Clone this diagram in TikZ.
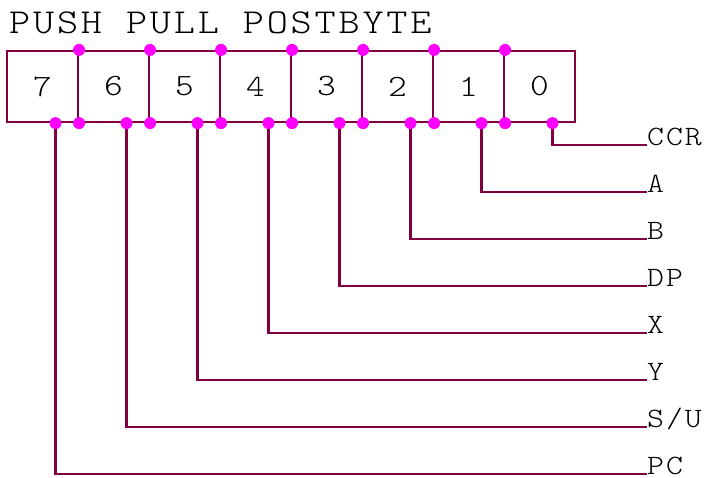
\documentclass[tikz,border=0pt]{standalone}
\usepackage{fontspec}
\newfontfamily\thinmono[FakeStretch=1.15,LetterSpace=8]{Latin Modern Mono Light}
\newfontfamily\thinmonolabel[FakeStretch=1.15,LetterSpace=7]{Latin Modern Mono Light}
\definecolor{wire}{RGB}{128,0,64}
\definecolor{joint}{RGB}{255,0,255}
\begin{document}
\begin{tikzpicture}[x=1pt,y=-1pt,
  bitcell/.style={draw=wire, line width=2.2pt, minimum width=71pt, minimum height=71pt,
    inner sep=0pt, font=\thinmono\fontsize{31}{33}\selectfont},
  wirepath/.style={draw=wire, line width=2.2pt},
  jointdot/.style={circle, fill=joint, minimum size=12pt, inner sep=0pt},
  reglabel/.style={anchor=base west, inner sep=0pt, font=\thinmonolabel\fontsize{28}{30}\selectfont},
  heading/.style={anchor=base west, inner sep=0pt, font=\thinmono\fontsize{35}{37}\selectfont}]
\useasboundingbox (0,0) rectangle (706,477);

% title
\node[heading] (title) at (9,33) {PUSH PULL POSTBYTE};

% the eight bit cells, bit 7 on the left
\foreach \b [count=\i from 0] in {7,6,5,4,3,2,1,0} {
  \node[bitcell] (c\b) at (42.5+71*\i,86.5) {\b};
}

% register labels
\node[reglabel] (lccr) at (647,145) {CCR};
\node[reglabel] (la)   at (647,192) {A};
\node[reglabel] (lb)   at (647,239) {B};
\node[reglabel] (ldp)  at (647,286) {DP};
\node[reglabel] (lx)   at (647,333) {X};
\node[reglabel] (ly)   at (647,380) {Y};
\node[reglabel] (lsu)  at (647,427) {S/U};
\node[reglabel] (lpc)  at (647,474) {PC};

% tap points under each cell
\foreach \b in {7,6,5,4,3,2,1,0} {
  \coordinate (t\b) at ([xshift=13pt]c\b.south);
}

% wires from each bit to its register
\draw[wirepath] (t0) |- (lccr.base west);
\draw[wirepath] (t1) |- (la.base west);
\draw[wirepath] (t2) |- (lb.base west);
\draw[wirepath] (t3) |- (ldp.base west);
\draw[wirepath] (t4) |- (lx.base west);
\draw[wirepath] (t5) |- (ly.base west);
\draw[wirepath] (t6) |- (lsu.base west);
\draw[wirepath] (t7) |- (lpc.base west);

% junction dots
\foreach \b in {7,6,5,4,3,2,1,0} {
  \node[jointdot] (dt\b) at (t\b) {};
}
\foreach \b in {7,6,5,4,3,2,1} {
  \node[jointdot] (dn\b) at (c\b.north east) {};
  \node[jointdot] (ds\b) at (c\b.south east) {};
}
\end{tikzpicture}
\end{document}
